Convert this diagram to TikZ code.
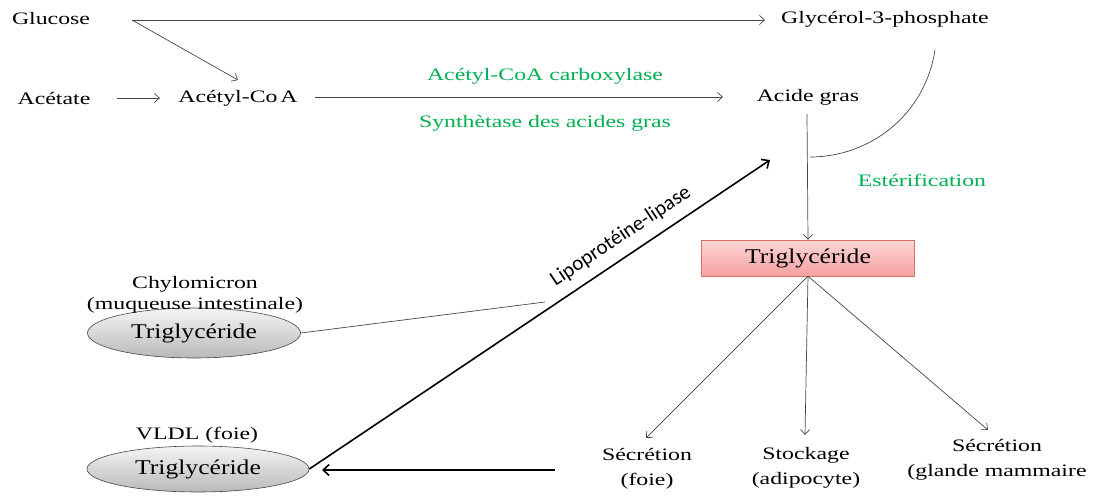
\documentclass[tikz,border=0pt]{standalone}
\usepackage{fontspec}
\setmainfont[FakeStretch=1.36]{Liberation Serif}
\newfontfamily\trifont[FakeStretch=1.22]{Liberation Serif}
\newfontfamily\calfont{Carlito}
\usetikzlibrary{arrows.meta,calc,shapes.geometric}
\definecolor{grn}{RGB}{0,176,80}
\definecolor{ln}{RGB}{70,70,70}
\definecolor{pinktop}{RGB}{255,215,215}
\definecolor{pinkbot}{RGB}{246,160,160}
\definecolor{pinkbd}{RGB}{215,110,110}
\begin{document}
\begin{tikzpicture}[x=1pt,y=-1pt,
  txt/.style={font=\fontsize{17.5}{24}\selectfont, inner sep=1pt, align=center},
  gtxt/.style={txt, text=grn},
  thin arrow/.style={draw=ln, line width=0.7pt, -{Straight Barb[length=5pt,width=9pt]}},
  thin line/.style={draw=ln, line width=0.7pt},
  thick arrow/.style={draw=black, line width=1.6pt, -{Straight Barb[length=6pt,width=11pt]}},
  tgbox/.style={draw=pinkbd, top color=pinktop, bottom color=pinkbot, minimum width=213pt, minimum height=36pt, inner sep=0pt, font=\trifont\fontsize{21}{24}\selectfont},
  tgell/.style={ellipse, draw=ln, line width=0.6pt, top color=gray!8, bottom color=gray!55, font=\trifont\fontsize{21}{24}\selectfont, inner sep=0pt}
]
\useasboundingbox (0,0) rectangle (1096,496);
% shapes first
\node[tgbox] (tg) at (808,258) {Triglycéride};
\node[tgell, minimum width=213pt, minimum height=50pt] (tgc) at (194,333) {Triglycéride};
\node[tgell, minimum width=222pt, minimum height=46pt] (tgv) at (198,469) {Triglycéride};
% text nodes
\node[txt] (glucose) at (51,19) {Glucose};
\node[txt] (glycerol) at (885,19) {Glycérol-3-phosphate};
\node[txt] (acetate) at (54,98) {Acétate};
\node[txt] (acetyl) at (238,98) {Acétyl-Co\,A};
\node[txt] (ag) at (808,97) {Acide gras};
\node[gtxt] (acc) at (545,76) {Acétyl-CoA carboxylase};
\node[gtxt] (syn) at (545,123) {Synthètase des acides gras};
\node[gtxt] (est) at (922,180) {Estérification};
\node[txt, font=\fontsize{17.5}{25}\selectfont] (secf) at (647,469) {Sécrétion\\(foie)};
\node[txt, font=\fontsize{17.5}{25}\selectfont] (stock) at (806,468) {Stockage\\(adipocyte)};
\node[txt, font=\fontsize{17.5}{25}\selectfont] (secm) at (997,460) {Sécrétion\\(glande mammaire};
\node[txt, font=\fontsize{17.5}{21}\selectfont] (chylo) at (195,295) {Chylomicron\\(muqueuse intestinale)};
\node[txt] (vldll) at (197,435) {VLDL (foie)};
% coordinates
\coordinate (g0) at (132,20);
\coordinate (gly0) at (765,20);
\coordinate (acA) at (238,80);
\coordinate (ac0) at (117,98);
\coordinate (ac1) at (160,98);
\coordinate (acy0) at (315,97);
\coordinate (ag0) at (723,97);
\coordinate (agb) at (807,114);
\coordinate (glyb) at (935,50);
\coordinate (join) at (810,157);
\coordinate (o1) at (646,438);
\coordinate (o2) at (805,435);
\coordinate (o3) at (988,430);
\coordinate (lipo) at (545,302);
\coordinate (lpe) at (770,160);
\coordinate (la0) at (555,470);
\coordinate (la1) at (322,470);
% connectors
\draw[thin arrow] (g0) -- (gly0);
\draw[thin arrow] (g0) -- (acA);
\draw[thin arrow] (ac0) -- (ac1);
\draw[thin arrow] (acy0) -- (ag0);
\draw[thin arrow] (agb) -- (tg.north);
\draw[thin line] (glyb) .. controls (925,115) and (870,157) .. (join);
\draw[thin arrow] (tg.south) -- (o1);
\draw[thin arrow] (tg.south) -- (o2);
\draw[thin arrow] (tg.south) -- (o3);
\draw[thin line] (tgc.east) -- (lipo);
\draw[thick arrow] (tgv.east) -- (lpe) node[pos=0.70, sloped, above=10pt, font=\calfont\fontsize{21}{24}\selectfont, inner sep=0pt] {Lipoprotéine-lipase};
\draw[thick arrow] (la0) -- (la1);
\end{tikzpicture}
\end{document}
